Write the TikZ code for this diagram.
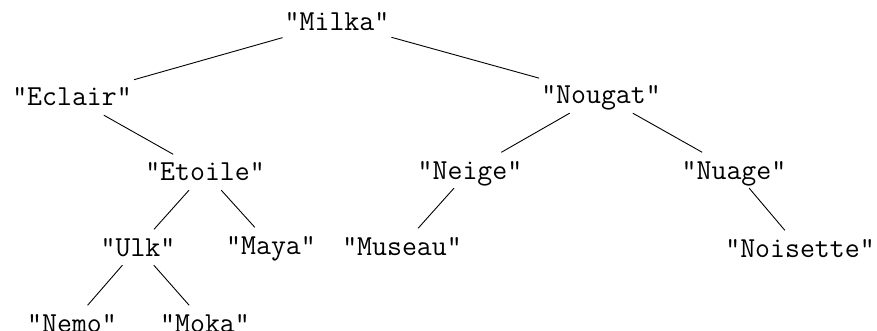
\documentclass[tikz,border=0pt]{standalone}
\usepackage{fontspec}
\begin{document}
\begin{tikzpicture}[x=1pt,y=-1pt,
  lbl/.style={anchor=base, inner xsep=2pt, inner ysep=0pt, text height=26.5pt, text depth=9pt,
    font=\ttfamily\fontsize{29}{34}\selectfont},
  edge/.style={line width=0.9pt}]
\useasboundingbox[fill=white] (0,0) rectangle (877,331);
\node[lbl] (milka) at (337,31) {"Milka"};
\node[lbl] (eclair) at (72,106) {"Eclair"};
\node[lbl] (nougat) at (601,104) {"Nougat"};
\node[lbl] (etoile) at (205,181) {"Etoile"};
\node[lbl] (neige) at (470,179) {"Neige"};
\node[lbl] (nuage) at (734,179) {"Nuage"};
\node[lbl] (ulk) at (138,256) {"Ulk"};
\node[lbl] (maya) at (271,254) {"Maya"};
\node[lbl] (museau) at (402,255) {"Museau"};
\node[lbl] (noisette) at (800,257) {"Noisette"};
\node[lbl] (nemo) at (72,332) {"Nemo"};
\node[lbl] (moka) at (205,332) {"Moka"};
\draw[edge] (milka) -- (eclair);
\draw[edge] (milka) -- (nougat);
\draw[edge] (eclair) -- (etoile);
\draw[edge] (nougat) -- (neige);
\draw[edge] (nougat) -- (nuage);
\draw[edge] (etoile) -- (ulk);
\draw[edge] (etoile) -- (maya);
\draw[edge] (neige) -- (museau);
\draw[edge] (nuage) -- (noisette);
\draw[edge] (ulk) -- (nemo);
\draw[edge] (ulk) -- (moka);
\end{tikzpicture}
\end{document}
